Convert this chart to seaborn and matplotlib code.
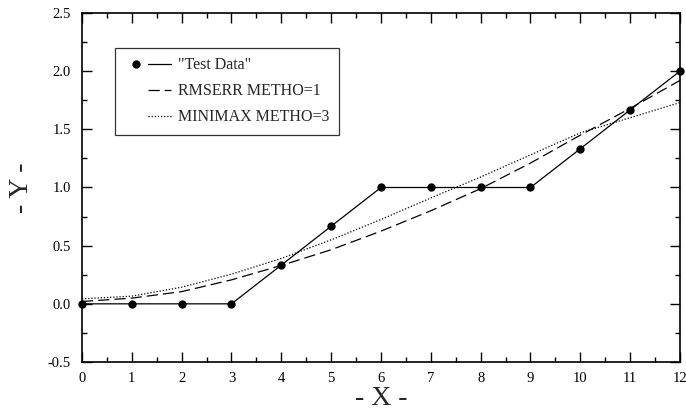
import matplotlib
matplotlib.use("Agg")
import matplotlib.pyplot as plt
from matplotlib.lines import Line2D
from matplotlib.legend_handler import HandlerTuple
from matplotlib.ticker import MultipleLocator
import seaborn as sns
import pandas as pd

x_vals = [0, 1, 2, 3, 4, 5, 6, 7, 8, 9, 10, 11, 12]
test_data = [0, 0, 0, 0, 0.333, 0.667, 1, 1, 1, 1, 1.333, 1.667, 2.0]
rmserr = [0.02, 0.049, 0.105, 0.206, 0.33, 0.465, 0.625, 0.80, 0.99, 1.21, 1.45, 1.68, 1.92]
minimax = [0.043, 0.066, 0.143, 0.255, 0.39, 0.55, 0.725, 0.91, 1.09, 1.28, 1.47, 1.60, 1.73]
labels = ['"Test Data"', 'RMSERR METHO=1', 'MINIMAX METHO=3']
x_ticks = list(range(0, 13))
y_ticks = [-0.5, 0.0, 0.5, 1.0, 1.5, 2.0, 2.5]

sns.set_style("ticks")
plt.rcParams['font.family'] = ['Liberation Serif', 'DejaVu Serif']

df = pd.DataFrame({"x": x_vals, "test": test_data, "rms": rmserr, "mini": minimax})

fig = plt.figure(figsize=(6.86, 4.11), dpi=100)
ax = fig.add_axes([0.1195, 0.1192, 0.8717, 0.8492])

sns.lineplot(data=df, x="x", y="test", ax=ax, color="black", lw=0.9,
             marker="o", markersize=6, markeredgewidth=0, clip_on=False, zorder=3)
sns.lineplot(data=df, x="x", y="rms", ax=ax, color="black", lw=0.9,
             linestyle=(0, (9, 4)))
sns.lineplot(data=df, x="x", y="mini", ax=ax, color="black", lw=0.9,
             linestyle=(0, (1, 1.5)))

ax.set_xlim(0, 12)
ax.set_ylim(-0.5, 2.5)
ax.set_xticks(x_ticks)
ax.set_yticks(y_ticks)
ax.set_yticklabels([f"{v:.1f}" for v in y_ticks])
ax.xaxis.set_minor_locator(MultipleLocator(0.5))
ax.yaxis.set_minor_locator(MultipleLocator(0.25))
ax.tick_params(which="both", direction="in", top=True, right=True, labelsize=10.5, width=1.0, colors="black")
ax.tick_params(which="major", length=7)
ax.tick_params(which="minor", length=3.5)
ax.tick_params(axis="x", which="major", pad=7)
ax.tick_params(axis="y", which="major", pad=8)
for s in ax.spines.values():
    s.set_linewidth(1.2)
    s.set_color("black")

ax.set_xlabel("- X -", fontsize=20, labelpad=1)
ax.set_ylabel("- Y -", fontsize=20, labelpad=10)

dot = Line2D([], [], color="black", marker="o", markersize=6, lw=0, markeredgewidth=0)
blank = Line2D([], [], lw=0)
l1 = Line2D([], [], color="black", lw=0.9)
l2 = Line2D([], [], color="black", lw=0.9, linestyle=(0, (9, 4)))
l3 = Line2D([], [], color="black", lw=0.9, linestyle=(0, (1, 1.5)))
leg = ax.legend([(dot, l1), (blank, l2), (blank, l3)], labels,
                handler_map={tuple: HandlerTuple(ndivide=2, pad=0.1)},
                loc="upper left", bbox_to_anchor=(0.055, 0.9), borderaxespad=0,
                frameon=True, fancybox=False, edgecolor="black", fontsize=11.5,
                handlelength=2.9, handletextpad=0.45, labelspacing=0.62, borderpad=0.6)
leg.get_frame().set_linewidth(0.9)

fig.savefig("out.png", dpi=100)
